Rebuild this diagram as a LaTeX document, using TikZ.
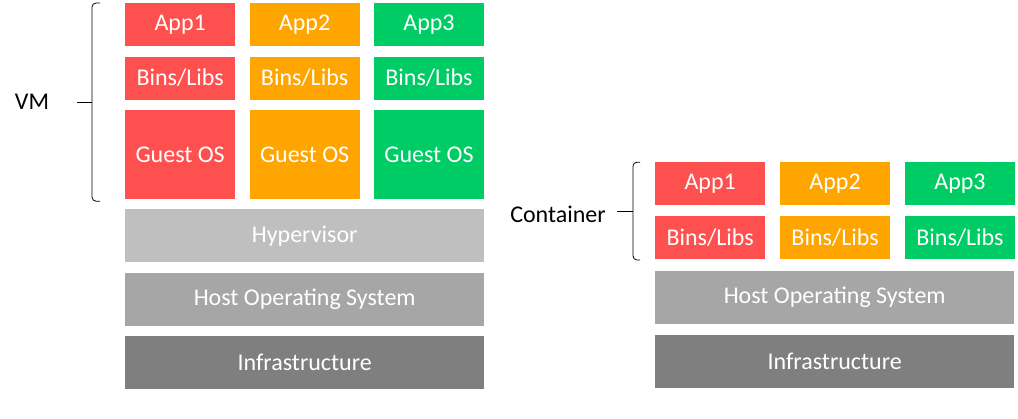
\documentclass[tikz,border=0pt]{standalone}
\usepackage{fontspec}
\setmainfont{Carlito}
\usetikzlibrary{positioning,calc}

\definecolor{appred}{HTML}{FF5050}
\definecolor{apporange}{HTML}{FFA500}
\definecolor{appgreen}{HTML}{00CC66}
\definecolor{hypgray}{HTML}{BFBFBF}
\definecolor{hostgray}{HTML}{A6A6A6}
\definecolor{infragray}{HTML}{7F7F7F}

\begin{document}
\begin{tikzpicture}[x=1pt, y=1pt,
				boxnode/.style={rectangle, inner sep=0pt, text=white, font=\fontsize{24}{28}\selectfont},
				appnode/.style={boxnode, minimum width=110pt, minimum height=43pt},
				guestnode/.style={boxnode, minimum width=110pt, minimum height=89pt},
				layernode/.style={boxnode, minimum width=359pt, minimum height=53pt},
				labelnode/.style={rectangle, inner sep=0pt, font=\fontsize{24}{28}\selectfont},
			]
			\useasboundingbox (0,0) rectangle (1018,-419);
			% virtual machines
			\node[appnode, fill=appred, anchor=north west] (vmapp1) at (125,-3) {App1};
			\node[appnode, fill=apporange] (vmapp2) [right=14pt of vmapp1] {App2};
			\node[appnode, fill=appgreen] (vmapp3) [right=14pt of vmapp2] {App3};
			\node[appnode, fill=appred] (vmbins1) [below=10pt of vmapp1] {Bins/Libs};
			\node[appnode, fill=apporange] (vmbins2) [below=10pt of vmapp2] {Bins/Libs};
			\node[appnode, fill=appgreen] (vmbins3) [below=10pt of vmapp3] {Bins/Libs};
			\node[guestnode, fill=appred] (guest1) [below=10pt of vmbins1] {Guest OS};
			\node[guestnode, fill=apporange] (guest2) [below=10pt of vmbins2] {Guest OS};
			\node[guestnode, fill=appgreen] (guest3) [below=10pt of vmbins3] {Guest OS};
			\node[layernode, fill=hypgray] (hyper) [below right=10pt and 0pt of guest1.south west] {Hypervisor};
			\node[layernode, fill=hostgray] (vmhost) [below=10pt of hyper] {Host Operating System};
			\node[layernode, fill=infragray] (vminfra) [below=10pt of vmhost] {Infrastructure};
			% containers
			\node[layernode, fill=hostgray, anchor=north west] (chost) at (655,-271) {Host Operating System};
			\node[layernode, fill=infragray] (cinfra) [below=10pt of chost] {Infrastructure};
			\node[appnode, fill=appred] (cbins1) [above right=12pt and 0pt of chost.north west] {Bins/Libs};
			\node[appnode, fill=apporange] (cbins2) [right=14.5pt of cbins1] {Bins/Libs};
			\node[appnode, fill=appgreen] (cbins3) [right=14.5pt of cbins2] {Bins/Libs};
			\node[appnode, fill=appred] (capp1) [above=10pt of cbins1] {App1};
			\node[appnode, fill=apporange] (capp2) [above=10pt of cbins2] {App2};
			\node[appnode, fill=appgreen] (capp3) [above=10pt of cbins3] {App3};
			% braces
			\coordinate (vmtop) at ([xshift=-25pt]vmapp1.north west);
			\coordinate (vmbot) at ([xshift=-25pt, yshift=-2pt]guest1.south west);
			\coordinate (vmmid) at ([xshift=-8pt]$(vmtop)!0.5!(vmbot)$);
			\node[labelnode] (vmlabel) at ([xshift=-60pt]vmmid) {VM};
			\draw[thick, rounded corners=4pt] (vmtop) -- ++(-8,0) |- (vmmid) |- (vmbot);
			\draw[thick] (vmmid) -- ++(-15,0);
			\coordinate (ctop) at ([xshift=-15pt]capp1.north west);
			\coordinate (cbot) at ([xshift=-15pt, yshift=-1pt]cbins1.south west);
			\coordinate (cmid) at ([xshift=-7pt]$(ctop)!0.5!(cbot)$);
			\node[labelnode] (clabel) at ([xshift=-75pt, yshift=-3pt]cmid) {Container};
			\draw[thick, rounded corners=4pt] (ctop) -- ++(-7,0) |- (cmid) |- (cbot);
			\draw[thick] (cmid) -- ++(-16,0);
			\end{tikzpicture}
\end{document}
